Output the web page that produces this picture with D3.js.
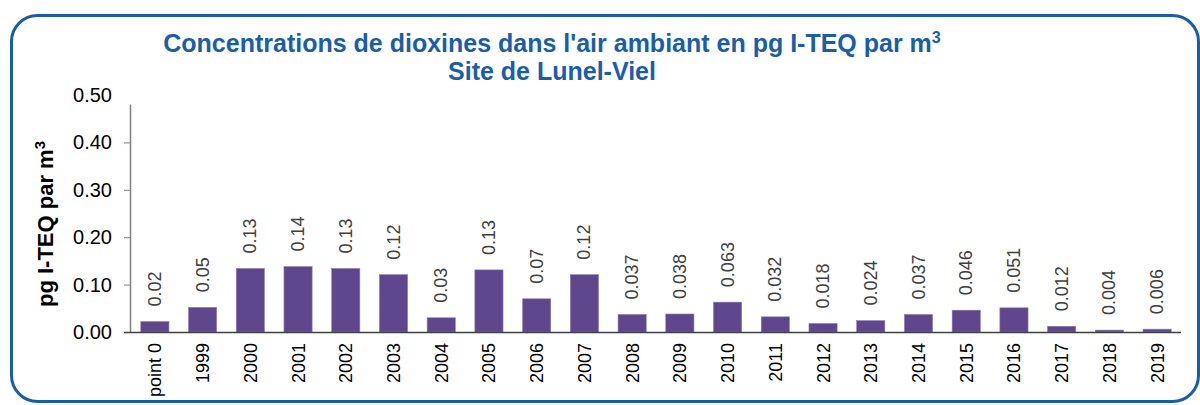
<!DOCTYPE html>
<html lang="fr">
<head>
<meta charset="utf-8">
<title>Dioxines Lunel-Viel</title>
<script src="https://cdn.jsdelivr.net/npm/d3@7"></script>
<style>
  body { margin: 0; background: #fff; }
  svg { display: block; font-family: "Liberation Sans", Arial, sans-serif; }
</style>
</head>
<body>
<script>
// Data
var categories = ["point 0", "1999", "2000", "2001", "2002", "2003", "2004", "2005", "2006", "2007",
  "2008", "2009", "2010", "2011", "2012", "2013", "2014", "2015", "2016", "2017", "2018", "2019"];
var values = [0.022, 0.052, 0.134, 0.138, 0.134, 0.121, 0.030, 0.131, 0.070, 0.121,
  0.037, 0.038, 0.063, 0.032, 0.018, 0.024, 0.037, 0.046, 0.051, 0.012, 0.004, 0.006];
var valueLabels = ["0.02", "0.05", "0.13", "0.14", "0.13", "0.12", "0.03", "0.13", "0.07", "0.12",
  "0.037", "0.038", "0.063", "0.032", "0.018", "0.024", "0.037", "0.046", "0.051", "0.012", "0.004", "0.006"];
var yTicks = [0, 0.1, 0.2, 0.3, 0.4, 0.5];

var w = 1200, h = 405;
var blue = "#1B5EA8";

var svg = d3.select("body").append("svg")
  .attr("width", w)
  .attr("height", h);

// frame
svg.append("rect")
  .attr("x", 11.5).attr("y", 15.5)
  .attr("width", 1187).attr("height", 386)
  .attr("rx", 26).attr("ry", 26)
  .attr("fill", "none")
  .attr("stroke", blue)
  .attr("stroke-width", 3);

// title
var title = svg.append("text")
  .attr("text-anchor", "middle")
  .attr("fill", blue)
  .attr("font-weight", "bold")
  .attr("font-size", 25);
var t1 = title.append("tspan").attr("x", 552).attr("y", 52);
t1.append("tspan").text("Concentrations de dioxines dans l'air ambiant en pg I-TEQ par m");
t1.append("tspan").attr("font-size", 16).attr("dy", -9).text("3");
title.append("tspan").attr("x", 552).attr("y", 80).text("Site de Lunel-Viel");

// scales
var x = d3.scaleBand()
  .domain(categories)
  .range([131, 1181])
  .paddingInner(0.41)
  .paddingOuter(0.205);

var y = d3.scaleLinear()
  .domain([0, 0.5])
  .range([332, 95]);

// y axis
var yAxis = svg.append("g")
  .attr("transform", "translate(130,0)")
  .call(d3.axisLeft(y).tickValues(yTicks).tickFormat(d3.format(".2f")).tickSize(6).tickPadding(12));
yAxis.select(".domain").remove();
yAxis.selectAll(".tick line").attr("stroke", "#808080")
  .filter(function(d) { return d === 0.5; }).remove();
yAxis.selectAll(".tick text")
  .attr("font-size", 20)
  .attr("font-family", "'Liberation Sans', Arial, sans-serif")
  .attr("fill", "#000");
svg.append("line")
  .attr("x1", 130.5).attr("x2", 130.5)
  .attr("y1", y(0.48)).attr("y2", y(0))
  .attr("stroke", "#808080").attr("stroke-width", 1.5);

// y axis title
var yt = svg.append("text")
  .attr("transform", "translate(53,224) rotate(-90)")
  .attr("text-anchor", "middle")
  .attr("font-weight", "bold")
  .attr("font-size", 22)
  .attr("fill", "#000");
yt.append("tspan").text("pg I-TEQ par m");
yt.append("tspan").attr("font-size", 15).attr("dy", -8).text("3");

// bars
svg.append("g").selectAll("rect")
  .data(values)
  .enter()
  .append("rect")
  .attr("x", function(d, i) { return x(categories[i]); })
  .attr("y", function(d) { return y(d); })
  .attr("width", x.bandwidth())
  .attr("height", function(d) { return y(0) - y(d); })
  .attr("fill", "#5E478C")
  .attr("stroke", "#8C7DB5")
  .attr("stroke-width", 0.6);

// value labels
svg.append("g").selectAll("text")
  .data(values)
  .enter()
  .append("text")
  .attr("transform", function(d, i) {
    var cx = x(categories[i]) + x.bandwidth() / 2;
    return "translate(" + (cx + 6) + "," + (y(d) - 15) + ") rotate(-90)";
  })
  .attr("font-size", 18)
  .attr("fill", "#404040")
  .text(function(d, i) { return valueLabels[i]; });

// x axis
svg.append("line")
  .attr("x1", 124).attr("x2", 1181)
  .attr("y1", 332.5).attr("y2", 332.5)
  .attr("stroke", "#404040").attr("stroke-width", 1.5);

svg.append("g").selectAll("text")
  .data(categories)
  .enter()
  .append("text")
  .attr("transform", function(d) {
    var cx = x(d) + x.bandwidth() / 2;
    return "translate(" + (cx + 6.5) + ",343) rotate(-90)";
  })
  .attr("text-anchor", "end")
  .attr("font-size", 18)
  .attr("fill", "#000")
  .text(function(d) { return d; });
</script>
</body>
</html>
